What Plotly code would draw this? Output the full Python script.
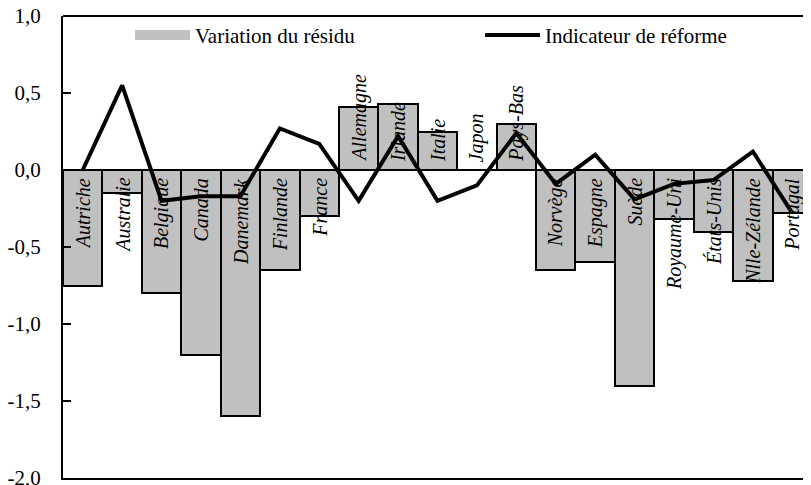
import plotly.graph_objects as go

pays = ["Autriche", "Australie", "Belgique", "Canada", "Danemark", "Finlande", "France",
        "Allemagne", "Irlande", "Italie", "Japon", "Pays-Bas", "Norvège", "Espagne",
        "Suède", "Royaume-Uni", "États-Unis", "Nlle-Zélande", "Portugal"]
variation_residu = [-0.75, -0.15, -0.80, -1.20, -1.60, -0.65, -0.30,
                    0.41, 0.43, 0.25, 0.0, 0.30, -0.65, -0.60,
                    -1.40, -0.32, -0.40, -0.72, -0.28]
indicateur_reforme = [0.0, 0.55, -0.20, -0.17, -0.17, 0.27, 0.17,
                      -0.20, 0.22, -0.20, -0.10, 0.24, -0.09, 0.10,
                      -0.19, -0.09, -0.065, 0.12, -0.28]
y_ticks = [-2.0, -1.5, -1.0, -0.5, 0.0, 0.5, 1.0]
y_ticktext = ["-2,0", "-1,5", "-1,0", "-0,5", "0,0", "0,5", "1,0"]

FONT = "Liberation Serif"
BAR_GREY = "#c0c0c0"

fig = go.Figure()
# legend-only entry for the bars (wide grey swatch as in the original)
fig.add_trace(go.Scatter(
    x=[pays[0]], y=[None], name="Variation du résidu", mode="lines",
    line=dict(color=BAR_GREY, width=13), hoverinfo="skip",
))
fig.add_trace(go.Bar(
    x=pays, y=variation_residu, name="Variation du résidu", showlegend=False,
    marker=dict(color=BAR_GREY, line=dict(color="black", width=2)),
))
fig.add_trace(go.Scatter(
    x=pays, y=indicateur_reforme, name="Indicateur de réforme",
    mode="lines", line=dict(color="black", width=4),
))

for p, v in zip(pays, variation_residu):
    neg = v < 0
    fig.add_annotation(
        x=p, y=0, text=p, showarrow=False, textangle=-90,
        yanchor="top" if neg else "bottom",
        yshift=-6 if neg else 6,
        font=dict(family=FONT, size=20, color="black", style="italic"),
    )

fig.update_layout(
    template="none",
    width=811, height=485,
    margin=dict(l=55, r=7, t=8, b=15, autoexpand=False),
    paper_bgcolor="white", plot_bgcolor="white",
    bargap=0,
    font=dict(family=FONT, size=21, color="black"),
    showlegend=True,
    legend=dict(
        orientation="h", x=0.0895, xanchor="left", y=0.958, yanchor="middle",
        bgcolor="rgba(0,0,0,0)", font=dict(family=FONT, size=21, color="black"),
        entrywidth=280, itemwidth=55, traceorder="normal",
    ),
    shapes=[dict(type="line", xref="paper", yref="paper", x0=0, x1=1, y0=1, y1=1,
                 line=dict(color="black", width=2))],
)
fig.update_xaxes(
    type="category", categoryorder="array", categoryarray=pays,
    showticklabels=False, ticks="", showgrid=False, automargin=False,
    showline=True, linecolor="black", linewidth=2, mirror=False,
    range=[-0.5, len(pays) - 0.5],
)
fig.update_yaxes(
    range=[-2.0, 1.0], tickvals=y_ticks, ticktext=y_ticktext, automargin=False,
    ticks="inside", ticklen=8, tickwidth=2, tickcolor="black",
    showgrid=False, showline=True, linecolor="black", linewidth=2, mirror=False,
    zeroline=True, zerolinecolor="black", zerolinewidth=2,
    ticklabelstandoff=16, ticklabeloverflow="allow",
    tickfont=dict(family=FONT, size=21, color="black"),
)

fig.write_html("out.html")
